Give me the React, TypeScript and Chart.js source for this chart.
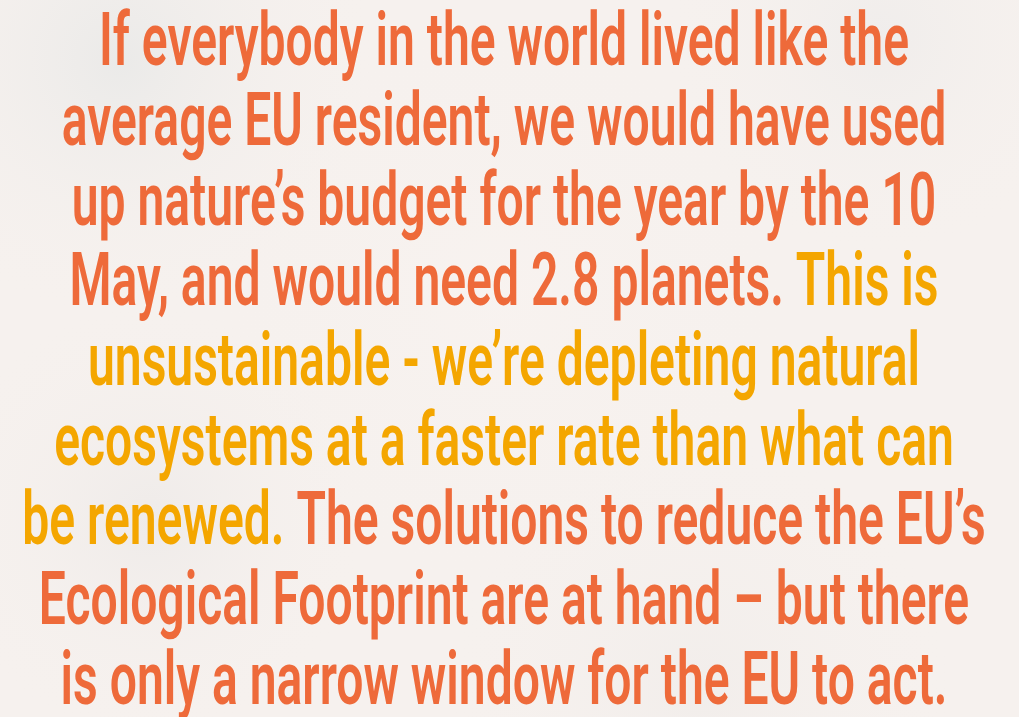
import React, { useEffect, useRef } from "react";
import { Chart, registerables } from "chart.js";

Chart.register(...registerables);

// Text content: each line is a list of [text, colorKey] segments
const lineSegments: [string, "main" | "accent"][][] = [
  [["If everybody in the world lived like the", "main"]],
  [["average EU resident, we would have used", "main"]],
  [["up nature\u2019s budget for the year by the 10", "main"]],
  [["May, and would need 2.8 planets. ", "main"], ["This is", "accent"]],
  [["unsustainable - we\u2019re depleting natural", "accent"]],
  [["ecosystems at a faster rate than what can", "accent"]],
  [["be renewed. ", "accent"], ["The solutions to reduce the EU\u2019s", "main"]],
  [["Ecological Footprint are at hand \u2013 but there", "main"]],
  [["is only a narrow window for the EU to act.", "main"]],
];

const COLORS = { main: "#EE6A3A", accent: "#F4A600" };
const BG = "#F6F1EE";

const W = 1019;
const H = 717;
const FONT_SIZE = 74;
const FONT = `600 ${FONT_SIZE}px Roboto, "DejaVu Sans Condensed", sans-serif`;
const FIRST_BASELINE = 65;
const LINE_STEP = 79.9;
const CENTER_X = 504;
const LINE1_WIDTH = 810;

const textPlugin = {
  id: "textBlock",
  beforeDraw(chart: any) {
    const ctx = chart.ctx as CanvasRenderingContext2D;
    ctx.save();
    ctx.fillStyle = BG;
    ctx.fillRect(0, 0, W, H);
    const blobs: [number, number, number, string][] = [
      [120, 60, 260, "rgba(225,228,228,0.55)"],
      [880, 40, 220, "rgba(232,232,232,0.45)"],
      [150, 520, 220, "rgba(228,226,226,0.4)"],
      [700, 690, 260, "rgba(235,232,230,0.4)"],
      [500, 300, 300, "rgba(250,244,241,0.5)"],
    ];
    for (const [x, y, r, c] of blobs) {
      const g = ctx.createRadialGradient(x, y, 0, x, y, r);
      g.addColorStop(0, c);
      g.addColorStop(1, "rgba(246,241,238,0)");
      ctx.fillStyle = g;
      ctx.fillRect(0, 0, W, H);
    }
    ctx.restore();
  },
  afterDraw(chart: any) {
    const ctx = chart.ctx as CanvasRenderingContext2D;
    ctx.save();
    ctx.font = FONT;
    ctx.textBaseline = "alphabetic";
    ctx.textAlign = "left";
    const widthOf = (segs: [string, string][]) =>
      segs.reduce((s, [t]) => s + ctx.measureText(t).width, 0);
    const sx = LINE1_WIDTH / widthOf(lineSegments[0]);
    lineSegments.forEach((segs, i) => {
      const total = widthOf(segs) * sx;
      let x = CENTER_X - total / 2;
      const y = FIRST_BASELINE + i * LINE_STEP;
      for (const [t, key] of segs) {
        ctx.save();
        ctx.translate(x, y);
        ctx.scale(sx, 1);
        ctx.fillStyle = COLORS[key];
        ctx.fillText(t, 0, 0);
        ctx.restore();
        x += ctx.measureText(t).width * sx;
      }
    });
    ctx.restore();
  },
};

export default function App() {
  const ref = useRef<HTMLCanvasElement>(null);
  useEffect(() => {
    if (!ref.current) return;
    const chart = new Chart(ref.current, {
      type: "line",
      data: { labels: [], datasets: [] },
      options: {
        animation: false,
        responsive: false,
        events: [],
        layout: { padding: 0 },
        scales: { x: { display: false }, y: { display: false } },
        plugins: { legend: { display: false }, tooltip: { enabled: false }, title: { display: false } },
      },
      plugins: [textPlugin],
    });
    return () => chart.destroy();
  }, []);
  return (
    <div style={{ position: "fixed", left: 0, top: 0, width: W, height: H, background: BG }}>
      <canvas ref={ref} width={W} height={H} style={{ width: W, height: H, display: "block" }} />
    </div>
  );
}
